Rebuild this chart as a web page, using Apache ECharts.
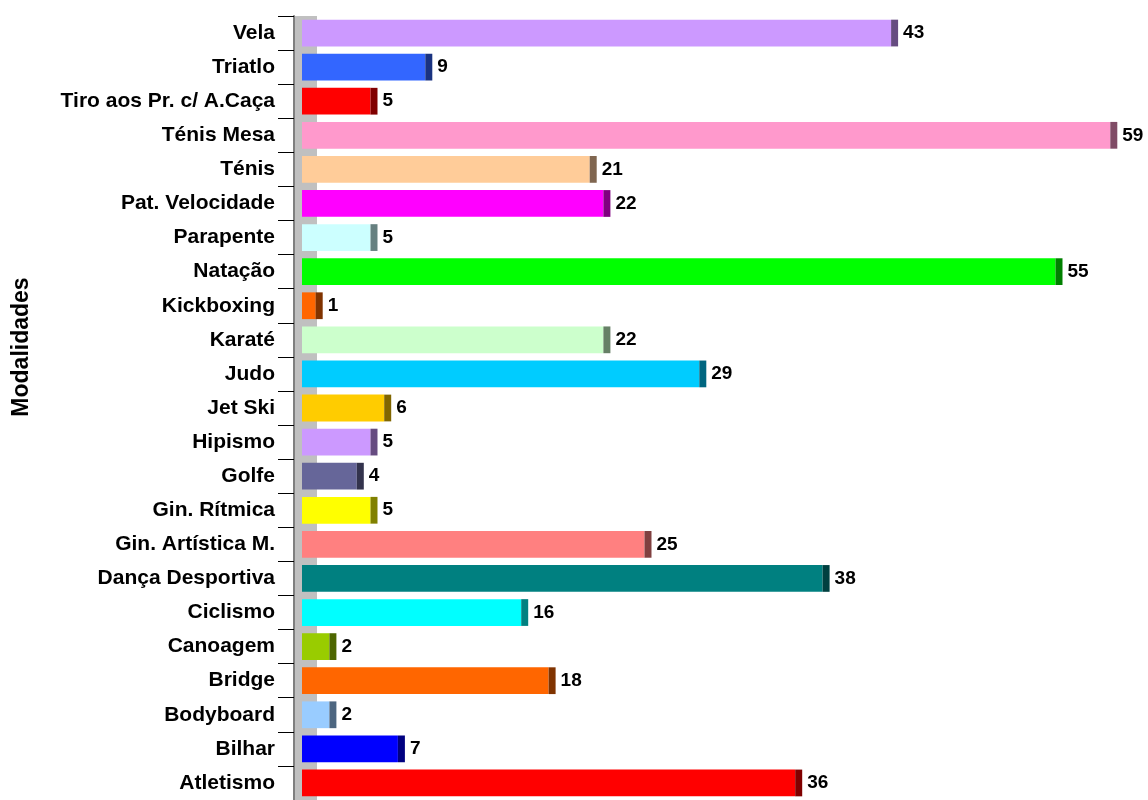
<!DOCTYPE html>
<html>
<head>
<meta charset="utf-8">
<script src="https://cdn.jsdelivr.net/npm/echarts@6/dist/echarts.min.js"></script>
<style>
html,body{margin:0;padding:0;background:#fff;}
#c{width:1148px;height:800px;}
</style>
</head>
<body>
<div id="c"></div>
<script>
const categories = ["Atletismo","Bilhar","Bodyboard","Bridge","Canoagem","Ciclismo","Dança Desportiva","Gin. Artística M.","Gin. Rítmica","Golfe","Hipismo","Jet Ski","Judo","Karaté","Kickboxing","Natação","Parapente","Pat. Velocidade","Ténis","Ténis Mesa","Tiro aos Pr. c/ A.Caça","Triatlo","Vela"];
const values = [36,7,2,18,2,16,38,25,5,4,5,6,29,22,1,55,5,22,21,59,5,9,43];
const colors = ["#FF0000","#0000FF","#99CCFF","#FF6600","#99CC00","#00FFFF","#008080","#FF8080","#FFFF00","#666699","#CC99FF","#FFCC00","#00CCFF","#CCFFCC","#FF6600","#00FF00","#CCFFFF","#FF00FF","#FFCC99","#FF99CC","#FF0000","#3366FF","#CC99FF"];
const capColors = ["#800000","#000080","#4D6680","#803300","#4D6600","#008080","#004040","#804040","#808000","#33334D","#664C80","#806600","#006680","#668066","#803300","#008000","#668080","#800080","#806650","#804C66","#800000","#1A3380","#664C80"];
const axisTitle = "Modalidades";

const FONT = 'Arial, "Liberation Sans", sans-serif';
const chart = echarts.init(document.getElementById('c'), null, {renderer:'canvas'});
chart.setOption({
  animation: false,
  backgroundColor: '#ffffff',
  grid: {left: 294, right: 24, top: 16, height: 793, containLabel: false},
  xAxis: {type: 'value', min: -0.584, max: 60, show: false},
  yAxis: {
    type: 'category', data: categories, z: 4,
    axisLine: {show: true, onZero: false, lineStyle: {color: '#7F7F7F', width: 2}},
    axisTick: {show: true, length: 16, lineStyle: {color: '#000000', width: 1}},
    axisLabel: {margin: 19, color: '#000000', fontFamily: FONT, fontWeight: 'bold', fontSize: 21},
    splitLine: {show: false}
  },
  graphic: [
    {type: 'rect', z: 0, shape: {x: 295, y: 16, width: 22, height: 800}, style: {fill: '#C0C0C0'}},
    {type: 'text', z: 5, x: 22, y: 347, rotation: Math.PI/2,
     style: {text: axisTitle, fill: '#000', font: 'bold 23px ' + FONT, textAlign: 'center', textVerticalAlign: 'middle'}}
  ],
  series: [{
    type: 'custom',
    z: 3,
    data: values.map((v, i) => [v, i]),
    encode: {x: 0, y: 1},
    renderItem: function (params, api) {
      const v = api.value(0), c = api.value(1);
      const end = api.coord([v, c]);
      const start = api.coord([0, c]);
      const h = api.size([0, 1])[1] * 0.785;
      const i = params.dataIndex;
      const capW = 7;
      return {type: 'group', children: [
        {type: 'rect', shape: {x: start[0], y: end[1] - h/2, width: end[0] - start[0], height: h}, style: {fill: colors[i]}},
        {type: 'rect', shape: {x: end[0], y: end[1] - h/2, width: capW, height: h}, style: {fill: capColors[i]}},
        {type: 'text', x: end[0] + capW + 5, y: end[1], style: {text: String(v), fill: '#000', font: 'bold 19px ' + FONT, textAlign: 'left', textVerticalAlign: 'middle'}}
      ]};
    }
  }]
});
</script>
</body>
</html>
